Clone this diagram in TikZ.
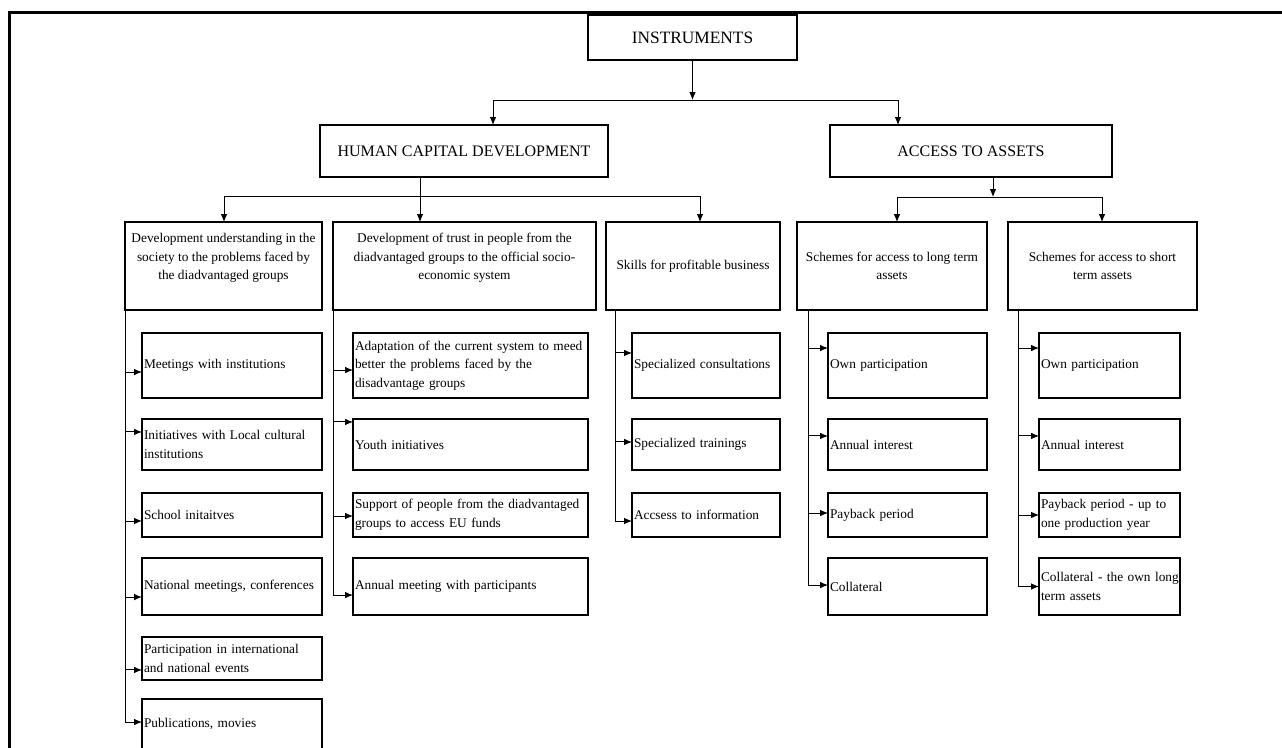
\documentclass[tikz,border=0pt]{standalone}
\usepackage{fontspec}
\setmainfont{Liberation Serif}
\usetikzlibrary{arrows.meta}
\newcommand\myarr[3]{\draw[arr] ([yshift=#3]#2.west -| #1) -- ([yshift=#3]#2.west);}
\tikzset{
  box/.style={draw, line width=2.2pt, rectangle, anchor=north west, outer sep=0pt, inner xsep=1.5pt, inner ysep=1pt, font=\fontsize{10}{13.9}\selectfont},
  tbox/.style={box, align=center, font=\fontsize{12}{14}\selectfont},
  midbox/.style={box, align=center, minimum height=66pt},
  leaf/.style={box, align=left},
  c1/.style={leaf, minimum width=135pt, text width=132pt},
  c2/.style={leaf, minimum width=176.25pt, text width=173.25pt},
  c3/.style={leaf, minimum width=111pt, text width=108pt},
  c4/.style={leaf, minimum width=119.25pt, text width=116.25pt},
  c5/.style={leaf, minimum width=105.75pt, text width=102.75pt},
  r1/.style={minimum height=48.75pt},
  r2/.style={minimum height=38.25pt},
  r3/.style={minimum height=33pt},
  r4/.style={minimum height=42.75pt},
  r5/.style={minimum height=32.25pt},
  r6/.style={minimum height=37.5pt},
  line/.style={line width=0.75pt},
  arr/.style={line, -{Latex[length=6pt,width=5pt]}},
  frame/.style={line width=2.25pt}
}
\begin{document}
\begin{tikzpicture}[x=0.75pt,y=-0.75pt]
\useasboundingbox (0,0) rectangle (1282,747);
\clip (0,0) rectangle (1282,747);
\draw[frame] (9,760) -- (9,12) -- (1290,12);

% level 1 and 2
\node[tbox, font=\fontsize{13}{15}\selectfont, minimum width=156.75pt, minimum height=33.75pt] (INS) at (588,15) {INSTRUMENTS};
\node[tbox, minimum width=216pt, minimum height=39pt] (HCD) at (320,125) {HUMAN CAPITAL DEVELOPMENT};
\node[tbox, minimum width=211.5pt, minimum height=39pt] (ACC) at (830,125) {ACCESS TO ASSETS};

% level 3
\node[midbox, minimum width=147.75pt] (L3a) at (125,222) {Development understanding in the\\society to the problems faced by\\the diadvantaged groups\\\mbox{}};
\node[midbox, minimum width=197.25pt] (L3b) at (333,222) {Development of trust in people from the\\diadvantaged groups to the official socio-\\economic system\\\mbox{}};
\node[midbox, minimum width=130.5pt] (L3c) at (606,222) {Skills for profitable business};
\node[midbox, minimum width=142.5pt] (L3d) at (797,222) {Schemes for access to long term\\assets};
\node[midbox, minimum width=141.75pt] (L3e) at (1008,222) {Schemes for access to short\\term assets};

% column 1
\node[c1,r1] (a1) at (142,333) {Meetings with institutions};
\node[c1,r2] (a2) at (142,419) {Initiatives with Local cultural\\institutions};
\node[c1,r3] (a3) at (142,493) {School initaitves};
\node[c1,r4] (a4) at (142,558) {National meetings, conferences};
\node[c1,r5] (a5) at (142,637) {Participation in international\\and national events};
\node[c1,r6] (a6) at (142,699) {Publications, movies};
% column 2
\node[c2,r1] (b1) at (353,333) {Adaptation of the current system to meed\\better the problems faced by the\\disadvantage groups};
\node[c2,r2] (b2) at (353,419) {Youth initiatives};
\node[c2,r3] (b3) at (353,493) {Support of people from the diadvantaged\\groups to access EU funds};
\node[c2,r4] (b4) at (353,558) {Annual meeting with participants};
% column 3
\node[c3,r1] (d1) at (632,333) {Specialized consultations};
\node[c3,r2] (d2) at (632,419) {Specialized trainings};
\node[c3,r3] (d3) at (632,493) {Accsess to information};
% column 4
\node[c4,r1] (e1) at (828,333) {Own participation};
\node[c4,r2] (e2) at (828,419) {Annual interest};
\node[c4,r3] (e3) at (828,493) {Payback period};
\node[c4,r4] (e4) at (828,558) {Collateral};
% column 5
\node[c5,r1] (f1) at (1039,333) {Own participation};
\node[c5,r2] (f2) at (1039,419) {Annual interest};
\node[c5,r3] (f3) at (1039,493) {Payback period - up to\\one production year};
\node[c5,r4] (f4) at (1039,558) {\mbox{Collateral - the own long}\\term assets};

% top connectors
\coordinate (j1) at (692.5,100);
\coordinate (hL) at (493,100);
\coordinate (hR) at (898,100);
\draw[arr] (INS.south) -- (j1);
\draw[line] (hL) -- (hR);
\draw[arr] (hL) -- (hL |- HCD.north);
\draw[arr] (hR) -- (hR |- ACC.north);

\coordinate (j2) at (420,196);
\coordinate (kL) at (224,196);
\coordinate (kR) at (700,196);
\draw[line] (HCD.south -| j2) -- (j2);
\draw[line] (kL) -- (kR);
\draw[arr] (kL) -- (kL |- L3a.north);
\draw[arr] (j2) -- (j2 |- L3b.north);
\draw[arr] (kR) -- (kR |- L3c.north);

\coordinate (j3) at (993,197);
\coordinate (mL) at (897,197);
\coordinate (mR) at (1102,197);
\draw[arr] (ACC.south -| j3) -- (j3);
\draw[line] (mL) -- (mR);
\draw[arr] (mL) -- (mL |- L3d.north);
\draw[arr] (mR) -- (mR |- L3e.north);

% spines
\coordinate (sp1) at (L3a.south west);
\coordinate (sp2) at (L3b.south west);
\coordinate (sp3) at ([xshift=6.75pt]L3c.south west);
\coordinate (sp4) at ([xshift=8.25pt]L3d.south west);
\coordinate (sp5) at ([xshift=7.5pt]L3e.south west);

\draw[line] (sp1) -- ([yshift=1.5pt]a6.west -| sp1);
\draw[line] (sp2) -- ([yshift=-6.4pt]b4.west -| sp2);
\draw[line] (sp3) -- ([yshift=-4.5pt]d3.west -| sp3);
\draw[line] (sp4) -- ([yshift=1.1pt]e4.west -| sp4);
\draw[line] (sp5) -- ([yshift=0pt]f4.west -| sp5);

\myarr{sp1}{a1}{-4.9pt}
\myarr{sp1}{a2}{9.4pt}
\myarr{sp1}{a3}{-4.5pt}
\myarr{sp1}{a4}{-7.9pt}
\myarr{sp1}{a5}{-8.6pt}
\myarr{sp1}{a6}{1.5pt}

\myarr{sp2}{b1}{-3.4pt}
\myarr{sp2}{b2}{16.9pt}
\myarr{sp2}{b3}{-0.75pt}
\myarr{sp2}{b4}{-6.4pt}

\myarr{sp3}{d1}{9.4pt}
\myarr{sp3}{d2}{1.9pt}
\myarr{sp3}{d3}{-4.5pt}

\myarr{sp4}{e1}{13.1pt}
\myarr{sp4}{e2}{6.4pt}
\myarr{sp4}{e3}{1.5pt}
\myarr{sp4}{e4}{1.1pt}

\myarr{sp5}{f1}{13.1pt}
\myarr{sp5}{f2}{6.4pt}
\myarr{sp5}{f3}{0pt}
\myarr{sp5}{f4}{0pt}
\end{tikzpicture}
\end{document}
